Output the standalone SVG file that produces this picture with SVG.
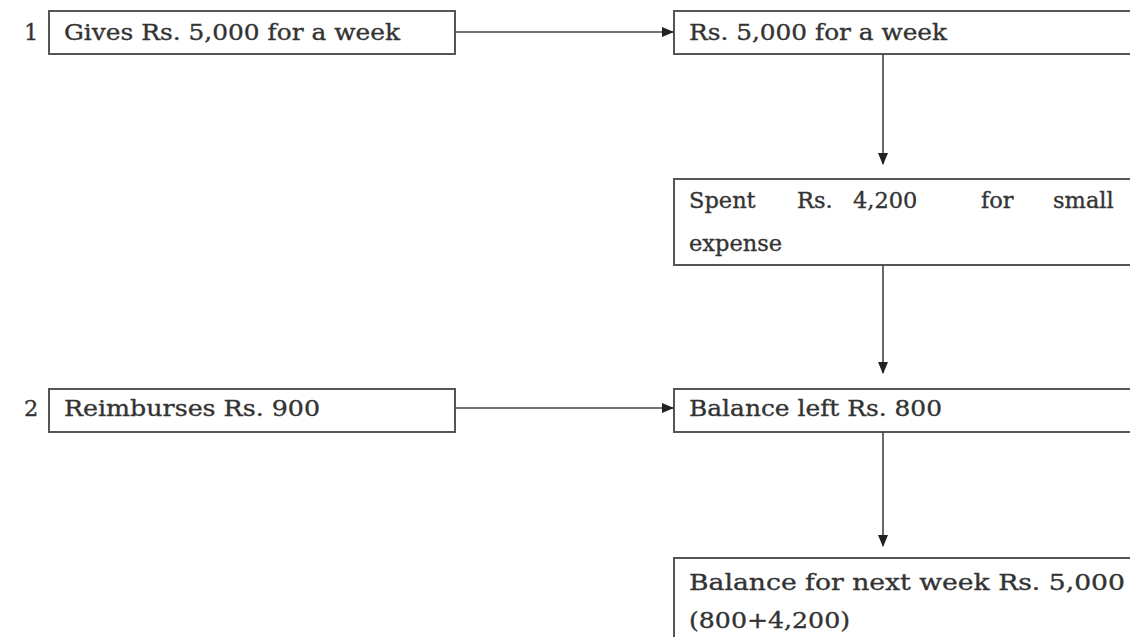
<svg xmlns="http://www.w3.org/2000/svg" width="1130" height="637" viewBox="0 0 1130 637">
<defs>
<style>
.box{fill:#fff;stroke:#555;stroke-width:2}
.t{font-family:"DejaVu Serif","Liberation Serif",serif;font-size:22.5px;fill:#333;stroke:#333;stroke-width:0.35}
.c{stroke:#444;stroke-width:1.6;fill:none}
</style>
<marker id="ah" markerWidth="12" markerHeight="12" refX="11" refY="6" orient="auto" markerUnits="userSpaceOnUse">
<path d="M0,1 L12,6 L0,11 Z" fill="#222"/>
</marker>
</defs>
<rect width="1130" height="637" fill="#fff"/>
<text class="t" x="24" y="40">1</text>
<text class="t" x="24" y="416">2</text>
<g id="n1"><rect class="box" x="49" y="11" width="406" height="43"/><text class="t" x="64" y="40" textLength="336" lengthAdjust="spacingAndGlyphs">Gives Rs. 5,000 for a week</text></g>
<g id="n2"><rect class="box" x="674" y="11" width="470" height="43"/><text class="t" x="689" y="40" textLength="258" lengthAdjust="spacingAndGlyphs">Rs. 5,000 for a week</text></g>
<g id="n3"><rect class="box" x="674" y="179" width="470" height="86"/>
<text class="t" y="208"><tspan x="689">Spent</tspan><tspan x="797">Rs.</tspan><tspan x="853">4,200</tspan><tspan x="981">for</tspan><tspan x="1053">small</tspan></text>
<text class="t" x="689" y="251">expense</text></g>
<g id="n4"><rect class="box" x="49" y="389" width="406" height="43"/><text class="t" x="64" y="416" textLength="256" lengthAdjust="spacingAndGlyphs">Reimburses Rs. 900</text></g>
<g id="n5"><rect class="box" x="674" y="389" width="470" height="43"/><text class="t" x="689" y="416" textLength="253" lengthAdjust="spacingAndGlyphs">Balance left Rs. 800</text></g>
<g id="n6"><rect class="box" x="674" y="558" width="470" height="100"/>
<text class="t" x="689" y="590" textLength="436" lengthAdjust="spacingAndGlyphs">Balance for next week Rs. 5,000</text>
<text class="t" x="689" y="628" textLength="161" lengthAdjust="spacingAndGlyphs">(800+4,200)</text></g>
<g id="connectors">
<line class="c" x1="455" y1="32" x2="673" y2="32" marker-end="url(#ah)"/>
<line class="c" x1="883" y1="54" x2="883" y2="164" marker-end="url(#ah)"/>
<line class="c" x1="883" y1="265" x2="883" y2="373" marker-end="url(#ah)"/>
<line class="c" x1="455" y1="408" x2="673" y2="408" marker-end="url(#ah)"/>
<line class="c" x1="883" y1="432" x2="883" y2="546" marker-end="url(#ah)"/>
</g>
</svg>
